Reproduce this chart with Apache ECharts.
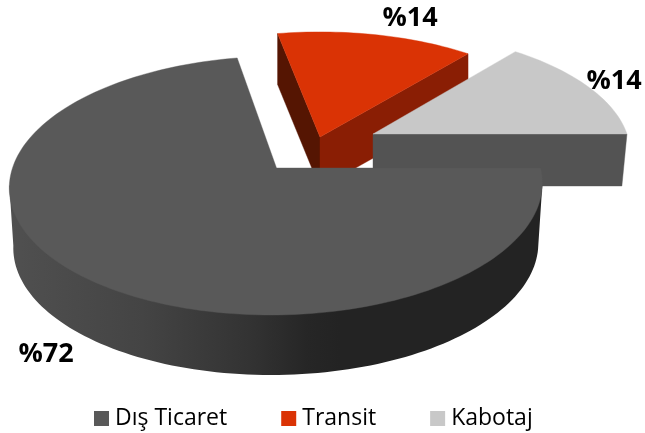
<!DOCTYPE html>
<html><head><meta charset="utf-8">
<style>html,body{margin:0;padding:0;background:#fff}#c{width:645px;height:433px}</style>
<script src="https://cdn.jsdelivr.net/npm/echarts@6/dist/echarts.min.js"></script>
</head><body><div id="c"></div>
<script>
const categories = ['Dış Ticaret', 'Transit', 'Kabotaj'];
const shares = [72, 14, 14];
const sliceColors = ['#595959', '#DA3305', '#C8C8C8'];

// Projection of the tilted pie (perspective k, radii in pixels) and per-slice placement
const RX = 264, RY = 127, K = 0.136;
const layouts = [
  {ax: 276.5, ay: 168, sx: 1, sy: 1, shear: -5, depth: 60, foot: 0.985, z: 4, lx: 46, ly: 354,
   wall: [[0,'#505050'],[0.25,'#444444'],[0.45,'#333333'],[0.56,'#262626'],[0.62,'#232323'],[1,'#232323']]},
  {ax: 320, ay: 137, sx: 0.972, sy: 0.94, shear: 0, depth: 51, foot: 1, z: 2, lx: 410, ly: 18,
   left: '#551502', right: '#8A1E04'},
  {ax: 373, ay: 134, sx: 0.962, sy: 0.93, shear: 6, depth: 52, foot: 0.98, z: 3, lx: 614, ly: 81,
   right: '#535353'}
];
const total = shares.reduce((a, b) => a + b, 0);
const rad = d => d * Math.PI / 180;

function pt(deg, L, low) {
  const u = Math.cos(rad(deg)), v = -Math.sin(rad(deg)), s = 1 / (1 - K * v);
  const f = low ? L.foot : 1;
  return [L.ax + (RX * L.sx * u + L.shear * v) * s * f,
          L.ay + RY * L.sy * v * s + (low ? L.depth : 0)];
}
function arc(a, b, L, low) {
  const n = Math.max(2, Math.ceil(Math.abs(b - a) / 1.5)), out = [];
  for (let i = 0; i <= n; i++) out.push(pt(a + (b - a) * i / n, L, low));
  return out;
}
const poly = (points, fill, z2) => ({type: 'polygon', z2, shape: {points}, style: {fill, stroke: fill, lineWidth: 0.4}});

function spans() {
  // Slices run clockwise from the east edge of the pie
  let cum = 0;
  return shares.map(v => { const a = 360 - cum / total * 360; cum += v; return [a, 360 - cum / total * 360]; });
}
const angleSpans = spans();

function drawSlice(i) {
  const L = layouts[i], [end, start] = angleSpans[i]; // start..end in counter-clockwise degrees
  const apex = [L.ax, L.ay], apexLow = [L.ax, L.ay + L.depth];
  const children = [];
  if (i === 0) {
    const lo = 180 + Math.asin(K) * 180 / Math.PI, hi = 360 - Math.asin(K) * 180 / Math.PI;
    // The wall closes under the top face with a chord, so no seam shows along the rim
    const wallPts = arc(hi, lo, L, true).concat([pt(lo, L, false), pt(hi, L, false)]);
    const grad = new echarts.graphic.LinearGradient(0, 0, 1, 0, L.wall.map(s => ({offset: s[0], color: s[1]})));
    children.push({type: 'polygon', z2: 1, shape: {points: wallPts}, style: {fill: grad}});
  } else {
    const pE = pt(end, L, false), pEl = pt(end, L, true), pS = pt(start, L, false), pSl = pt(start, L, true);
    if (L.left) children.push(poly([apex, pE, pEl, apexLow], L.left, 1));
    children.push(poly([apex, pS, pSl, apexLow], L.right, 1));
  }
  children.push(poly([apex].concat(arc(start, end, L, false)), sliceColors[i], 2));
  children.push({type: 'text', z2: 5, style: {
    x: L.lx, y: L.ly, text: '%' + shares[i], align: 'center', verticalAlign: 'middle',
    fill: '#000', font: 'bold 27px "Open Sans", sans-serif'}});
  return {type: 'group', children};
}

const chart = echarts.init(document.getElementById('c'), null, {renderer: 'canvas'});
chart.setOption({
  animation: false,
  backgroundColor: '#fff',
  legend: {
    data: categories, left: 89, top: 402, itemWidth: 15, itemHeight: 15, itemGap: 54,
    icon: 'rect', selectedMode: false,
    textStyle: {fontFamily: '"Open Sans", sans-serif', fontSize: 23, color: '#000', padding: [0, 0, 0, 1]}
  },
  series: categories.map((name, i) => ({
    type: 'custom', name, coordinateSystem: 'none', silent: true, z: layouts[i].z,
    itemStyle: {color: sliceColors[i]},
    data: [shares[i]],
    renderItem: () => drawSlice(i)
  }))
});
</script></body></html>
